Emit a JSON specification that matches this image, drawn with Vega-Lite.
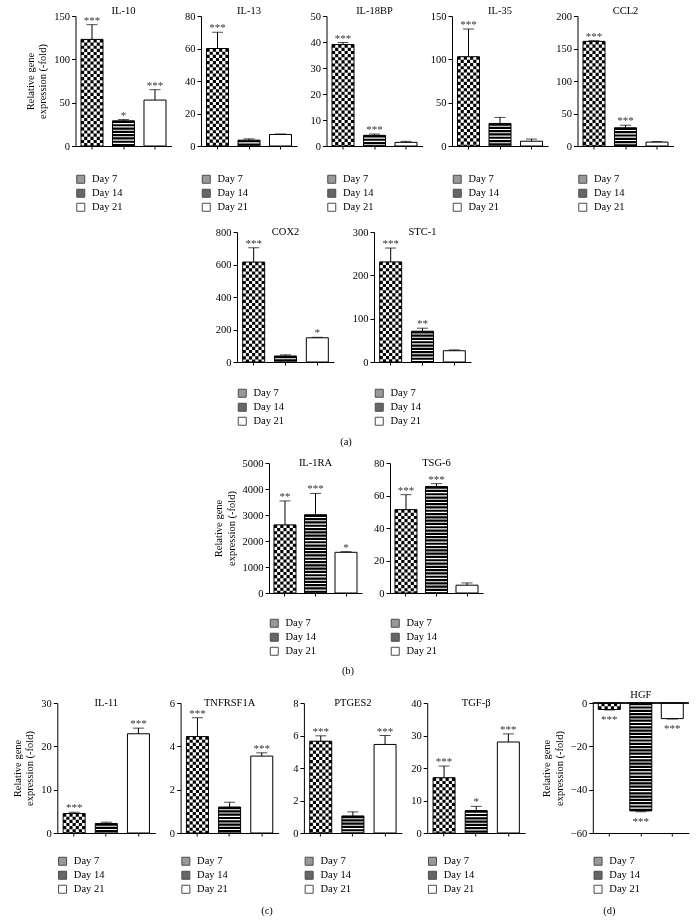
{
"$schema":"https://vega.github.io/schema/vega-lite/v6.json",
"padding":{"left":0,"top":5,"right":0,"bottom":0},
"background":"white",
"spacing":0,
"resolve":{"scale":{"fill":"independent"},"legend":{"fill":"independent"}},
"config":{
 "view":{"stroke":null},
 "font":"Liberation Serif",
 "axis":{"labelFont":"Liberation Serif","labelFontSize":10.5,"labelColor":"black","titleFont":"Liberation Serif","titleFontSize":10.5,"titleFontWeight":"normal","titleColor":"black","domainColor":"black","tickColor":"black","grid":false,"tickSize":4,"labelPadding":2,"titlePadding":6},
 "axisX":{"tickSize":3},
 "title":{"font":"Liberation Serif","fontSize":10.5,"fontWeight":"normal","color":"black","offset":-5,"anchor":"middle","frame":"group"},
 "legend":{"orient":"bottom","direction":"vertical","labelFont":"Liberation Serif","labelFontSize":10.5,"labelColor":"black","symbolType":"square","symbolSize":64,"symbolStrokeColor":"black","symbolStrokeWidth":1,"rowPadding":1,"offset":19,"labelOffset":6,"padding":0}
},
"datasets":{"d":[
{"g":"IL-10","day":"Day 7","v":123,"e":140,"s":"***"},
{"g":"IL-10","day":"Day 14","v":29,"e":30.5,"s":"*"},
{"g":"IL-10","day":"Day 21","v":53,"e":65,"s":"***"},
{"g":"IL-13","day":"Day 7","v":60,"e":70,"s":"***"},
{"g":"IL-13","day":"Day 14","v":3.6,"e":4.4,"s":""},
{"g":"IL-13","day":"Day 21","v":7.1,"e":7.4,"s":""},
{"g":"IL-18BP","day":"Day 7","v":39,"e":39.8,"s":"***"},
{"g":"IL-18BP","day":"Day 14","v":4.1,"e":4.6,"s":"***"},
{"g":"IL-18BP","day":"Day 21","v":1.4,"e":1.8,"s":""},
{"g":"IL-35","day":"Day 7","v":103,"e":135,"s":"***"},
{"g":"IL-35","day":"Day 14","v":26,"e":33,"s":""},
{"g":"IL-35","day":"Day 21","v":5.5,"e":8,"s":""},
{"g":"CCL2","day":"Day 7","v":161,"e":162,"s":"***"},
{"g":"CCL2","day":"Day 14","v":28,"e":32,"s":"***"},
{"g":"CCL2","day":"Day 21","v":6,"e":6.8,"s":""},
{"g":"COX2","day":"Day 7","v":615,"e":703,"s":"***"},
{"g":"COX2","day":"Day 14","v":37,"e":44,"s":""},
{"g":"COX2","day":"Day 21","v":149,"e":152,"s":"*"},
{"g":"STC-1","day":"Day 7","v":231,"e":263,"s":"***"},
{"g":"STC-1","day":"Day 14","v":71,"e":78,"s":"**"},
{"g":"STC-1","day":"Day 21","v":26,"e":28,"s":""},
{"g":"IL-1RA","day":"Day 7","v":2620,"e":3540,"s":"**"},
{"g":"IL-1RA","day":"Day 14","v":3010,"e":3830,"s":"***"},
{"g":"IL-1RA","day":"Day 21","v":1565,"e":1590,"s":"*"},
{"g":"TSG-6","day":"Day 7","v":51.3,"e":60.5,"s":"***"},
{"g":"TSG-6","day":"Day 14","v":65.5,"e":67.3,"s":"***"},
{"g":"TSG-6","day":"Day 21","v":4.8,"e":6.2,"s":""},
{"g":"IL-11","day":"Day 7","v":4.5,"e":4.8,"s":"***"},
{"g":"IL-11","day":"Day 14","v":2.2,"e":2.5,"s":""},
{"g":"IL-11","day":"Day 21","v":22.9,"e":24.2,"s":"***"},
{"g":"TNFRSF1A","day":"Day 7","v":4.45,"e":5.32,"s":"***"},
{"g":"TNFRSF1A","day":"Day 14","v":1.2,"e":1.42,"s":""},
{"g":"TNFRSF1A","day":"Day 21","v":3.55,"e":3.7,"s":"***"},
{"g":"PTGES2","day":"Day 7","v":5.65,"e":5.98,"s":"***"},
{"g":"PTGES2","day":"Day 14","v":1.05,"e":1.3,"s":""},
{"g":"PTGES2","day":"Day 21","v":5.45,"e":6.0,"s":"***"},
{"g":"TGF-β","day":"Day 7","v":17,"e":20.6,"s":"***"},
{"g":"TGF-β","day":"Day 14","v":6.9,"e":8.2,"s":"*"},
{"g":"TGF-β","day":"Day 21","v":28,"e":30.5,"s":"***"},
{"g":"HGF","day":"Day 7","v":-3.0,"e":-3.2,"s":"***"},
{"g":"HGF","day":"Day 14","v":-49.8,"e":-50.2,"s":"***"},
{"g":"HGF","day":"Day 21","v":-7.2,"e":-7.4,"s":"***"}
]},
"vconcat":[
{"spacing":29.5,"bounds":"flush","resolve":{"scale":{"fill":"independent"},"legend":{"fill":"independent"}},"hconcat":[
 {"width":45.5,"height":210.75,"data":{"values":[]},"mark":"point","encoding":{}},
 {"width":96,"height":130,"title":"IL-10","data":{"name":"d"},"transform":[{"filter":"datum.g==='IL-10'"}],
  "encoding":{"x":{"field":"day","type":"nominal","scale":{"domain":["Day 7","Day 14","Day 21"],"paddingInner":0.3,"paddingOuter":0.174},"axis":{"title":null,"labels":false}},
   "y":{"field":"v","type":"quantitative","scale":{"domain":[0,150],"nice":false,"zero":false},"axis":{"values":[0,50,100,150],"format":"d","title":["Relative gene","expression (-fold)"]}}},
  "layer":[
   {"transform":[{"filter":"datum.day==='Day 7'"}],"mark":{"type":"rule","strokeWidth":22,"strokeDash":[3.14,3.14],"color":"black"},"encoding":{"y2":{"datum":0}}},
   {"transform":[{"filter":"datum.day==='Day 7'"}],"mark":{"type":"rule","strokeWidth":3.14,"color":"white","blend":"difference","xOffset":-6.29},"encoding":{"y2":{"datum":0}}},
   {"transform":[{"filter":"datum.day==='Day 7'"}],"mark":{"type":"rule","strokeWidth":3.14,"color":"white","blend":"difference"},"encoding":{"y2":{"datum":0}}},
   {"transform":[{"filter":"datum.day==='Day 7'"}],"mark":{"type":"rule","strokeWidth":3.14,"color":"white","blend":"difference","xOffset":6.29},"encoding":{"y2":{"datum":0}}},
   {"transform":[{"filter":"datum.day==='Day 14'"}],"mark":{"type":"rule","strokeWidth":22,"strokeDash":[2.2,1.1],"color":"black"},"encoding":{"y2":{"datum":0}}},
   {"mark":{"type":"bar","filled":false,"color":"black","strokeWidth":1,"width":22}},
   {"mark":{"type":"rule","color":"black","strokeWidth":1},"encoding":{"y2":{"field":"e"}}},
   {"mark":{"type":"tick","color":"black","size":11,"thickness":1},"encoding":{"y":{"field":"e","type":"quantitative"}}},
   {"mark":{"type":"text","font":"Liberation Serif","fontSize":11,"baseline":"alphabetic","dy":-1,"color":"#333"},"encoding":{"y":{"field":"e","type":"quantitative"},"text":{"field":"s"}}},
   {"transform":[{"filter":"false"}],"mark":{"type":"point","shape":"square","filled":true,"stroke":"black","strokeWidth":1,"size":64},"encoding":{"fill":{"field":"day","type":"nominal","scale":{"domain":["Day 7","Day 14","Day 21"],"range":["#6e6e6e","#262626","white"]},"legend":{"title":null,"offset":24}}}}
  ]},
 {"width":96,"height":130,"title":"IL-13","data":{"name":"d"},"transform":[{"filter":"datum.g==='IL-13'"}],
  "encoding":{"x":{"field":"day","type":"nominal","scale":{"domain":["Day 7","Day 14","Day 21"],"paddingInner":0.3,"paddingOuter":0.174},"axis":{"title":null,"labels":false}},
   "y":{"field":"v","type":"quantitative","scale":{"domain":[0,80],"nice":false,"zero":false},"axis":{"values":[0,20,40,60,80],"format":"d","title":null}}},
  "layer":[
   {"transform":[{"filter":"datum.day==='Day 7'"}],"mark":{"type":"rule","strokeWidth":22,"strokeDash":[3.14,3.14],"color":"black"},"encoding":{"y2":{"datum":0}}},
   {"transform":[{"filter":"datum.day==='Day 7'"}],"mark":{"type":"rule","strokeWidth":3.14,"color":"white","blend":"difference","xOffset":-6.29},"encoding":{"y2":{"datum":0}}},
   {"transform":[{"filter":"datum.day==='Day 7'"}],"mark":{"type":"rule","strokeWidth":3.14,"color":"white","blend":"difference"},"encoding":{"y2":{"datum":0}}},
   {"transform":[{"filter":"datum.day==='Day 7'"}],"mark":{"type":"rule","strokeWidth":3.14,"color":"white","blend":"difference","xOffset":6.29},"encoding":{"y2":{"datum":0}}},
   {"transform":[{"filter":"datum.day==='Day 14'"}],"mark":{"type":"rule","strokeWidth":22,"strokeDash":[2.2,1.1],"color":"black"},"encoding":{"y2":{"datum":0}}},
   {"mark":{"type":"bar","filled":false,"color":"black","strokeWidth":1,"width":22}},
   {"mark":{"type":"rule","color":"black","strokeWidth":1},"encoding":{"y2":{"field":"e"}}},
   {"mark":{"type":"tick","color":"black","size":11,"thickness":1},"encoding":{"y":{"field":"e","type":"quantitative"}}},
   {"mark":{"type":"text","font":"Liberation Serif","fontSize":11,"baseline":"alphabetic","dy":-1,"color":"#333"},"encoding":{"y":{"field":"e","type":"quantitative"},"text":{"field":"s"}}},
   {"transform":[{"filter":"false"}],"mark":{"type":"point","shape":"square","filled":true,"stroke":"black","strokeWidth":1,"size":64},"encoding":{"fill":{"field":"day","type":"nominal","scale":{"domain":["Day 7","Day 14","Day 21"],"range":["#6e6e6e","#262626","white"]},"legend":{"title":null,"offset":24}}}}
  ]},
 {"width":96,"height":130,"title":"IL-18BP","data":{"name":"d"},"transform":[{"filter":"datum.g==='IL-18BP'"}],
  "encoding":{"x":{"field":"day","type":"nominal","scale":{"domain":["Day 7","Day 14","Day 21"],"paddingInner":0.3,"paddingOuter":0.174},"axis":{"title":null,"labels":false}},
   "y":{"field":"v","type":"quantitative","scale":{"domain":[0,50],"nice":false,"zero":false},"axis":{"values":[0,10,20,30,40,50],"format":"d","title":null}}},
  "layer":[
   {"transform":[{"filter":"datum.day==='Day 7'"}],"mark":{"type":"rule","strokeWidth":22,"strokeDash":[3.14,3.14],"color":"black"},"encoding":{"y2":{"datum":0}}},
   {"transform":[{"filter":"datum.day==='Day 7'"}],"mark":{"type":"rule","strokeWidth":3.14,"color":"white","blend":"difference","xOffset":-6.29},"encoding":{"y2":{"datum":0}}},
   {"transform":[{"filter":"datum.day==='Day 7'"}],"mark":{"type":"rule","strokeWidth":3.14,"color":"white","blend":"difference"},"encoding":{"y2":{"datum":0}}},
   {"transform":[{"filter":"datum.day==='Day 7'"}],"mark":{"type":"rule","strokeWidth":3.14,"color":"white","blend":"difference","xOffset":6.29},"encoding":{"y2":{"datum":0}}},
   {"transform":[{"filter":"datum.day==='Day 14'"}],"mark":{"type":"rule","strokeWidth":22,"strokeDash":[2.2,1.1],"color":"black"},"encoding":{"y2":{"datum":0}}},
   {"mark":{"type":"bar","filled":false,"color":"black","strokeWidth":1,"width":22}},
   {"mark":{"type":"rule","color":"black","strokeWidth":1},"encoding":{"y2":{"field":"e"}}},
   {"mark":{"type":"tick","color":"black","size":11,"thickness":1},"encoding":{"y":{"field":"e","type":"quantitative"}}},
   {"mark":{"type":"text","font":"Liberation Serif","fontSize":11,"baseline":"alphabetic","dy":-1,"color":"#333"},"encoding":{"y":{"field":"e","type":"quantitative"},"text":{"field":"s"}}},
   {"transform":[{"filter":"false"}],"mark":{"type":"point","shape":"square","filled":true,"stroke":"black","strokeWidth":1,"size":64},"encoding":{"fill":{"field":"day","type":"nominal","scale":{"domain":["Day 7","Day 14","Day 21"],"range":["#6e6e6e","#262626","white"]},"legend":{"title":null,"offset":24}}}}
  ]},
 {"width":96,"height":130,"title":"IL-35","data":{"name":"d"},"transform":[{"filter":"datum.g==='IL-35'"}],
  "encoding":{"x":{"field":"day","type":"nominal","scale":{"domain":["Day 7","Day 14","Day 21"],"paddingInner":0.3,"paddingOuter":0.174},"axis":{"title":null,"labels":false}},
   "y":{"field":"v","type":"quantitative","scale":{"domain":[0,150],"nice":false,"zero":false},"axis":{"values":[0,50,100,150],"format":"d","title":null}}},
  "layer":[
   {"transform":[{"filter":"datum.day==='Day 7'"}],"mark":{"type":"rule","strokeWidth":22,"strokeDash":[3.14,3.14],"color":"black"},"encoding":{"y2":{"datum":0}}},
   {"transform":[{"filter":"datum.day==='Day 7'"}],"mark":{"type":"rule","strokeWidth":3.14,"color":"white","blend":"difference","xOffset":-6.29},"encoding":{"y2":{"datum":0}}},
   {"transform":[{"filter":"datum.day==='Day 7'"}],"mark":{"type":"rule","strokeWidth":3.14,"color":"white","blend":"difference"},"encoding":{"y2":{"datum":0}}},
   {"transform":[{"filter":"datum.day==='Day 7'"}],"mark":{"type":"rule","strokeWidth":3.14,"color":"white","blend":"difference","xOffset":6.29},"encoding":{"y2":{"datum":0}}},
   {"transform":[{"filter":"datum.day==='Day 14'"}],"mark":{"type":"rule","strokeWidth":22,"strokeDash":[2.2,1.1],"color":"black"},"encoding":{"y2":{"datum":0}}},
   {"mark":{"type":"bar","filled":false,"color":"black","strokeWidth":1,"width":22}},
   {"mark":{"type":"rule","color":"black","strokeWidth":1},"encoding":{"y2":{"field":"e"}}},
   {"mark":{"type":"tick","color":"black","size":11,"thickness":1},"encoding":{"y":{"field":"e","type":"quantitative"}}},
   {"mark":{"type":"text","font":"Liberation Serif","fontSize":11,"baseline":"alphabetic","dy":-1,"color":"#333"},"encoding":{"y":{"field":"e","type":"quantitative"},"text":{"field":"s"}}},
   {"transform":[{"filter":"false"}],"mark":{"type":"point","shape":"square","filled":true,"stroke":"black","strokeWidth":1,"size":64},"encoding":{"fill":{"field":"day","type":"nominal","scale":{"domain":["Day 7","Day 14","Day 21"],"range":["#6e6e6e","#262626","white"]},"legend":{"title":null,"offset":24}}}}
  ]},
 {"width":96,"height":130,"title":"CCL2","data":{"name":"d"},"transform":[{"filter":"datum.g==='CCL2'"}],
  "encoding":{"x":{"field":"day","type":"nominal","scale":{"domain":["Day 7","Day 14","Day 21"],"paddingInner":0.3,"paddingOuter":0.174},"axis":{"title":null,"labels":false}},
   "y":{"field":"v","type":"quantitative","scale":{"domain":[0,200],"nice":false,"zero":false},"axis":{"values":[0,50,100,150,200],"format":"d","title":null}}},
  "layer":[
   {"transform":[{"filter":"datum.day==='Day 7'"}],"mark":{"type":"rule","strokeWidth":22,"strokeDash":[3.14,3.14],"color":"black"},"encoding":{"y2":{"datum":0}}},
   {"transform":[{"filter":"datum.day==='Day 7'"}],"mark":{"type":"rule","strokeWidth":3.14,"color":"white","blend":"difference","xOffset":-6.29},"encoding":{"y2":{"datum":0}}},
   {"transform":[{"filter":"datum.day==='Day 7'"}],"mark":{"type":"rule","strokeWidth":3.14,"color":"white","blend":"difference"},"encoding":{"y2":{"datum":0}}},
   {"transform":[{"filter":"datum.day==='Day 7'"}],"mark":{"type":"rule","strokeWidth":3.14,"color":"white","blend":"difference","xOffset":6.29},"encoding":{"y2":{"datum":0}}},
   {"transform":[{"filter":"datum.day==='Day 14'"}],"mark":{"type":"rule","strokeWidth":22,"strokeDash":[2.2,1.1],"color":"black"},"encoding":{"y2":{"datum":0}}},
   {"mark":{"type":"bar","filled":false,"color":"black","strokeWidth":1,"width":22}},
   {"mark":{"type":"rule","color":"black","strokeWidth":1},"encoding":{"y2":{"field":"e"}}},
   {"mark":{"type":"tick","color":"black","size":11,"thickness":1},"encoding":{"y":{"field":"e","type":"quantitative"}}},
   {"mark":{"type":"text","font":"Liberation Serif","fontSize":11,"baseline":"alphabetic","dy":-1,"color":"#333"},"encoding":{"y":{"field":"e","type":"quantitative"},"text":{"field":"s"}}},
   {"transform":[{"filter":"false"}],"mark":{"type":"point","shape":"square","filled":true,"stroke":"black","strokeWidth":1,"size":64},"encoding":{"fill":{"field":"day","type":"nominal","scale":{"domain":["Day 7","Day 14","Day 21"],"range":["#6e6e6e","#262626","white"]},"legend":{"title":null,"offset":24}}}}
  ]}
]},
{"spacing":40,"bounds":"flush","resolve":{"scale":{"fill":"independent"},"legend":{"fill":"independent"}},"hconcat":[
 {"width":197,"height":225.5,"data":{"values":[]},"mark":"point","encoding":{},"title":{"text":"(a)","orient":"bottom","offset":-20.5,"dx":247.5}},
 {"width":97,"height":130,"title":{"text":"COX2","offset":-10.5},"data":{"name":"d"},"transform":[{"filter":"datum.g==='COX2'"}],
  "encoding":{"x":{"field":"day","type":"nominal","scale":{"domain":["Day 7","Day 14","Day 21"],"paddingInner":0.3,"paddingOuter":0.174},"axis":{"title":null,"labels":false}},
   "y":{"field":"v","type":"quantitative","scale":{"domain":[0,800],"nice":false,"zero":false},"axis":{"values":[0,200,400,600,800],"format":"d","title":null}}},
  "layer":[
   {"transform":[{"filter":"datum.day==='Day 7'"}],"mark":{"type":"rule","strokeWidth":22,"strokeDash":[3.14,3.14],"color":"black"},"encoding":{"y2":{"datum":0}}},
   {"transform":[{"filter":"datum.day==='Day 7'"}],"mark":{"type":"rule","strokeWidth":3.14,"color":"white","blend":"difference","xOffset":-6.29},"encoding":{"y2":{"datum":0}}},
   {"transform":[{"filter":"datum.day==='Day 7'"}],"mark":{"type":"rule","strokeWidth":3.14,"color":"white","blend":"difference"},"encoding":{"y2":{"datum":0}}},
   {"transform":[{"filter":"datum.day==='Day 7'"}],"mark":{"type":"rule","strokeWidth":3.14,"color":"white","blend":"difference","xOffset":6.29},"encoding":{"y2":{"datum":0}}},
   {"transform":[{"filter":"datum.day==='Day 14'"}],"mark":{"type":"rule","strokeWidth":22,"strokeDash":[2.2,1.1],"color":"black"},"encoding":{"y2":{"datum":0}}},
   {"mark":{"type":"bar","filled":false,"color":"black","strokeWidth":1,"width":22}},
   {"mark":{"type":"rule","color":"black","strokeWidth":1},"encoding":{"y2":{"field":"e"}}},
   {"mark":{"type":"tick","color":"black","size":11,"thickness":1},"encoding":{"y":{"field":"e","type":"quantitative"}}},
   {"mark":{"type":"text","font":"Liberation Serif","fontSize":11,"baseline":"alphabetic","dy":-1,"color":"#333"},"encoding":{"y":{"field":"e","type":"quantitative"},"text":{"field":"s"}}},
   {"transform":[{"filter":"false"}],"mark":{"type":"point","shape":"square","filled":true,"stroke":"black","strokeWidth":1,"size":64},"encoding":{"fill":{"field":"day","type":"nominal","scale":{"domain":["Day 7","Day 14","Day 21"],"range":["#6e6e6e","#262626","white"]},"legend":{"title":null,"offset":22}}}}
  ]},
 {"width":97,"height":130,"title":{"text":"STC-1","offset":-10.5},"data":{"name":"d"},"transform":[{"filter":"datum.g==='STC-1'"}],
  "encoding":{"x":{"field":"day","type":"nominal","scale":{"domain":["Day 7","Day 14","Day 21"],"paddingInner":0.3,"paddingOuter":0.174},"axis":{"title":null,"labels":false}},
   "y":{"field":"v","type":"quantitative","scale":{"domain":[0,300],"nice":false,"zero":false},"axis":{"values":[0,100,200,300],"format":"d","title":null}}},
  "layer":[
   {"transform":[{"filter":"datum.day==='Day 7'"}],"mark":{"type":"rule","strokeWidth":22,"strokeDash":[3.14,3.14],"color":"black"},"encoding":{"y2":{"datum":0}}},
   {"transform":[{"filter":"datum.day==='Day 7'"}],"mark":{"type":"rule","strokeWidth":3.14,"color":"white","blend":"difference","xOffset":-6.29},"encoding":{"y2":{"datum":0}}},
   {"transform":[{"filter":"datum.day==='Day 7'"}],"mark":{"type":"rule","strokeWidth":3.14,"color":"white","blend":"difference"},"encoding":{"y2":{"datum":0}}},
   {"transform":[{"filter":"datum.day==='Day 7'"}],"mark":{"type":"rule","strokeWidth":3.14,"color":"white","blend":"difference","xOffset":6.29},"encoding":{"y2":{"datum":0}}},
   {"transform":[{"filter":"datum.day==='Day 14'"}],"mark":{"type":"rule","strokeWidth":22,"strokeDash":[2.2,1.1],"color":"black"},"encoding":{"y2":{"datum":0}}},
   {"mark":{"type":"bar","filled":false,"color":"black","strokeWidth":1,"width":22}},
   {"mark":{"type":"rule","color":"black","strokeWidth":1},"encoding":{"y2":{"field":"e"}}},
   {"mark":{"type":"tick","color":"black","size":11,"thickness":1},"encoding":{"y":{"field":"e","type":"quantitative"}}},
   {"mark":{"type":"text","font":"Liberation Serif","fontSize":11,"baseline":"alphabetic","dy":-1,"color":"#333"},"encoding":{"y":{"field":"e","type":"quantitative"},"text":{"field":"s"}}},
   {"transform":[{"filter":"false"}],"mark":{"type":"point","shape":"square","filled":true,"stroke":"black","strokeWidth":1,"size":64},"encoding":{"fill":{"field":"day","type":"nominal","scale":{"domain":["Day 7","Day 14","Day 21"],"range":["#6e6e6e","#262626","white"]},"legend":{"title":null,"offset":22}}}}
  ]}
]},
{"spacing":28,"bounds":"flush","resolve":{"scale":{"fill":"independent"},"legend":{"fill":"independent"}},"hconcat":[
 {"width":241,"height":226,"data":{"values":[]},"mark":"point","encoding":{},"title":{"text":"(b)","orient":"bottom","offset":-23.5,"dx":227.5}},
 {"width":93,"height":130,"title":{"text":"IL-1RA","offset":-10.5},"data":{"name":"d"},"transform":[{"filter":"datum.g==='IL-1RA'"}],
  "encoding":{"x":{"field":"day","type":"nominal","scale":{"domain":["Day 7","Day 14","Day 21"],"paddingInner":0.3,"paddingOuter":0.174},"axis":{"title":null,"labels":false}},
   "y":{"field":"v","type":"quantitative","scale":{"domain":[0,5000],"nice":false,"zero":false},"axis":{"values":[0,1000,2000,3000,4000,5000],"format":"d","title":["Relative gene","expression (-fold)"]}}},
  "layer":[
   {"transform":[{"filter":"datum.day==='Day 7'"}],"mark":{"type":"rule","strokeWidth":22,"strokeDash":[3.14,3.14],"color":"black"},"encoding":{"y2":{"datum":0}}},
   {"transform":[{"filter":"datum.day==='Day 7'"}],"mark":{"type":"rule","strokeWidth":3.14,"color":"white","blend":"difference","xOffset":-6.29},"encoding":{"y2":{"datum":0}}},
   {"transform":[{"filter":"datum.day==='Day 7'"}],"mark":{"type":"rule","strokeWidth":3.14,"color":"white","blend":"difference"},"encoding":{"y2":{"datum":0}}},
   {"transform":[{"filter":"datum.day==='Day 7'"}],"mark":{"type":"rule","strokeWidth":3.14,"color":"white","blend":"difference","xOffset":6.29},"encoding":{"y2":{"datum":0}}},
   {"transform":[{"filter":"datum.day==='Day 14'"}],"mark":{"type":"rule","strokeWidth":22,"strokeDash":[2.2,1.1],"color":"black"},"encoding":{"y2":{"datum":0}}},
   {"mark":{"type":"bar","filled":false,"color":"black","strokeWidth":1,"width":22}},
   {"mark":{"type":"rule","color":"black","strokeWidth":1},"encoding":{"y2":{"field":"e"}}},
   {"mark":{"type":"tick","color":"black","size":11,"thickness":1},"encoding":{"y":{"field":"e","type":"quantitative"}}},
   {"mark":{"type":"text","font":"Liberation Serif","fontSize":11,"baseline":"alphabetic","dy":-1,"color":"#333"},"encoding":{"y":{"field":"e","type":"quantitative"},"text":{"field":"s"}}},
   {"transform":[{"filter":"false"}],"mark":{"type":"point","shape":"square","filled":true,"stroke":"black","strokeWidth":1,"size":64},"encoding":{"fill":{"field":"day","type":"nominal","scale":{"domain":["Day 7","Day 14","Day 21"],"range":["#6e6e6e","#262626","white"]},"legend":{"title":null,"offset":21}}}}
  ]},
 {"width":93,"height":130,"title":{"text":"TSG-6","offset":-10.5},"data":{"name":"d"},"transform":[{"filter":"datum.g==='TSG-6'"}],
  "encoding":{"x":{"field":"day","type":"nominal","scale":{"domain":["Day 7","Day 14","Day 21"],"paddingInner":0.3,"paddingOuter":0.174},"axis":{"title":null,"labels":false}},
   "y":{"field":"v","type":"quantitative","scale":{"domain":[0,80],"nice":false,"zero":false},"axis":{"values":[0,20,40,60,80],"format":"d","title":null}}},
  "layer":[
   {"transform":[{"filter":"datum.day==='Day 7'"}],"mark":{"type":"rule","strokeWidth":22,"strokeDash":[3.14,3.14],"color":"black"},"encoding":{"y2":{"datum":0}}},
   {"transform":[{"filter":"datum.day==='Day 7'"}],"mark":{"type":"rule","strokeWidth":3.14,"color":"white","blend":"difference","xOffset":-6.29},"encoding":{"y2":{"datum":0}}},
   {"transform":[{"filter":"datum.day==='Day 7'"}],"mark":{"type":"rule","strokeWidth":3.14,"color":"white","blend":"difference"},"encoding":{"y2":{"datum":0}}},
   {"transform":[{"filter":"datum.day==='Day 7'"}],"mark":{"type":"rule","strokeWidth":3.14,"color":"white","blend":"difference","xOffset":6.29},"encoding":{"y2":{"datum":0}}},
   {"transform":[{"filter":"datum.day==='Day 14'"}],"mark":{"type":"rule","strokeWidth":22,"strokeDash":[2.2,1.1],"color":"black"},"encoding":{"y2":{"datum":0}}},
   {"mark":{"type":"bar","filled":false,"color":"black","strokeWidth":1,"width":22}},
   {"mark":{"type":"rule","color":"black","strokeWidth":1},"encoding":{"y2":{"field":"e"}}},
   {"mark":{"type":"tick","color":"black","size":11,"thickness":1},"encoding":{"y":{"field":"e","type":"quantitative"}}},
   {"mark":{"type":"text","font":"Liberation Serif","fontSize":11,"baseline":"alphabetic","dy":-1,"color":"#333"},"encoding":{"y":{"field":"e","type":"quantitative"},"text":{"field":"s"}}},
   {"transform":[{"filter":"false"}],"mark":{"type":"point","shape":"square","filled":true,"stroke":"black","strokeWidth":1,"size":64},"encoding":{"fill":{"field":"day","type":"nominal","scale":{"domain":["Day 7","Day 14","Day 21"],"range":["#6e6e6e","#262626","white"]},"legend":{"title":null,"offset":21}}}}
  ]}
]},
{"spacing":25.3,"bounds":"flush","resolve":{"scale":{"fill":"independent"},"legend":{"fill":"independent"}},"hconcat":[
 {"width":31.7,"height":208,"data":{"values":[]},"mark":"point","encoding":{},"title":{"text":"(c)","orient":"bottom","offset":-5,"dx":251.15}},
 {"width":98,"height":130,"title":{"text":"IL-11","offset":-10.5},"data":{"name":"d"},"transform":[{"filter":"datum.g==='IL-11'"}],
  "encoding":{"x":{"field":"day","type":"nominal","scale":{"domain":["Day 7","Day 14","Day 21"],"paddingInner":0.3,"paddingOuter":0.174},"axis":{"title":null,"labels":false}},
   "y":{"field":"v","type":"quantitative","scale":{"domain":[0,30],"nice":false,"zero":false},"axis":{"values":[0,10,20,30],"format":"d","title":["Relative gene","expression (-fold)"]}}},
  "layer":[
   {"transform":[{"filter":"datum.day==='Day 7'"}],"mark":{"type":"rule","strokeWidth":22,"strokeDash":[3.14,3.14],"color":"black"},"encoding":{"y2":{"datum":0}}},
   {"transform":[{"filter":"datum.day==='Day 7'"}],"mark":{"type":"rule","strokeWidth":3.14,"color":"white","blend":"difference","xOffset":-6.29},"encoding":{"y2":{"datum":0}}},
   {"transform":[{"filter":"datum.day==='Day 7'"}],"mark":{"type":"rule","strokeWidth":3.14,"color":"white","blend":"difference"},"encoding":{"y2":{"datum":0}}},
   {"transform":[{"filter":"datum.day==='Day 7'"}],"mark":{"type":"rule","strokeWidth":3.14,"color":"white","blend":"difference","xOffset":6.29},"encoding":{"y2":{"datum":0}}},
   {"transform":[{"filter":"datum.day==='Day 14'"}],"mark":{"type":"rule","strokeWidth":22,"strokeDash":[2.2,1.1],"color":"black"},"encoding":{"y2":{"datum":0}}},
   {"mark":{"type":"bar","filled":false,"color":"black","strokeWidth":1,"width":22}},
   {"mark":{"type":"rule","color":"black","strokeWidth":1},"encoding":{"y2":{"field":"e"}}},
   {"mark":{"type":"tick","color":"black","size":11,"thickness":1},"encoding":{"y":{"field":"e","type":"quantitative"}}},
   {"mark":{"type":"text","font":"Liberation Serif","fontSize":11,"baseline":"alphabetic","dy":-1,"color":"#333"},"encoding":{"y":{"field":"e","type":"quantitative"},"text":{"field":"s"}}},
   {"transform":[{"filter":"false"}],"mark":{"type":"point","shape":"square","filled":true,"stroke":"black","strokeWidth":1,"size":64},"encoding":{"fill":{"field":"day","type":"nominal","scale":{"domain":["Day 7","Day 14","Day 21"],"range":["#6e6e6e","#262626","white"]},"legend":{"title":null}}}}
  ]},
 {"width":98,"height":130,"title":{"text":"TNFRSF1A","offset":-10.5},"data":{"name":"d"},"transform":[{"filter":"datum.g==='TNFRSF1A'"}],
  "encoding":{"x":{"field":"day","type":"nominal","scale":{"domain":["Day 7","Day 14","Day 21"],"paddingInner":0.3,"paddingOuter":0.174},"axis":{"title":null,"labels":false}},
   "y":{"field":"v","type":"quantitative","scale":{"domain":[0,6],"nice":false,"zero":false},"axis":{"values":[0,2,4,6],"format":"d","title":null}}},
  "layer":[
   {"transform":[{"filter":"datum.day==='Day 7'"}],"mark":{"type":"rule","strokeWidth":22,"strokeDash":[3.14,3.14],"color":"black"},"encoding":{"y2":{"datum":0}}},
   {"transform":[{"filter":"datum.day==='Day 7'"}],"mark":{"type":"rule","strokeWidth":3.14,"color":"white","blend":"difference","xOffset":-6.29},"encoding":{"y2":{"datum":0}}},
   {"transform":[{"filter":"datum.day==='Day 7'"}],"mark":{"type":"rule","strokeWidth":3.14,"color":"white","blend":"difference"},"encoding":{"y2":{"datum":0}}},
   {"transform":[{"filter":"datum.day==='Day 7'"}],"mark":{"type":"rule","strokeWidth":3.14,"color":"white","blend":"difference","xOffset":6.29},"encoding":{"y2":{"datum":0}}},
   {"transform":[{"filter":"datum.day==='Day 14'"}],"mark":{"type":"rule","strokeWidth":22,"strokeDash":[2.2,1.1],"color":"black"},"encoding":{"y2":{"datum":0}}},
   {"mark":{"type":"bar","filled":false,"color":"black","strokeWidth":1,"width":22}},
   {"mark":{"type":"rule","color":"black","strokeWidth":1},"encoding":{"y2":{"field":"e"}}},
   {"mark":{"type":"tick","color":"black","size":11,"thickness":1},"encoding":{"y":{"field":"e","type":"quantitative"}}},
   {"mark":{"type":"text","font":"Liberation Serif","fontSize":11,"baseline":"alphabetic","dy":-1,"color":"#333"},"encoding":{"y":{"field":"e","type":"quantitative"},"text":{"field":"s"}}},
   {"transform":[{"filter":"false"}],"mark":{"type":"point","shape":"square","filled":true,"stroke":"black","strokeWidth":1,"size":64},"encoding":{"fill":{"field":"day","type":"nominal","scale":{"domain":["Day 7","Day 14","Day 21"],"range":["#6e6e6e","#262626","white"]},"legend":{"title":null}}}}
  ]},
 {"width":98,"height":130,"title":{"text":"PTGES2","offset":-10.5},"data":{"name":"d"},"transform":[{"filter":"datum.g==='PTGES2'"}],
  "encoding":{"x":{"field":"day","type":"nominal","scale":{"domain":["Day 7","Day 14","Day 21"],"paddingInner":0.3,"paddingOuter":0.174},"axis":{"title":null,"labels":false}},
   "y":{"field":"v","type":"quantitative","scale":{"domain":[0,8],"nice":false,"zero":false},"axis":{"values":[0,2,4,6,8],"format":"d","title":null}}},
  "layer":[
   {"transform":[{"filter":"datum.day==='Day 7'"}],"mark":{"type":"rule","strokeWidth":22,"strokeDash":[3.14,3.14],"color":"black"},"encoding":{"y2":{"datum":0}}},
   {"transform":[{"filter":"datum.day==='Day 7'"}],"mark":{"type":"rule","strokeWidth":3.14,"color":"white","blend":"difference","xOffset":-6.29},"encoding":{"y2":{"datum":0}}},
   {"transform":[{"filter":"datum.day==='Day 7'"}],"mark":{"type":"rule","strokeWidth":3.14,"color":"white","blend":"difference"},"encoding":{"y2":{"datum":0}}},
   {"transform":[{"filter":"datum.day==='Day 7'"}],"mark":{"type":"rule","strokeWidth":3.14,"color":"white","blend":"difference","xOffset":6.29},"encoding":{"y2":{"datum":0}}},
   {"transform":[{"filter":"datum.day==='Day 14'"}],"mark":{"type":"rule","strokeWidth":22,"strokeDash":[2.2,1.1],"color":"black"},"encoding":{"y2":{"datum":0}}},
   {"mark":{"type":"bar","filled":false,"color":"black","strokeWidth":1,"width":22}},
   {"mark":{"type":"rule","color":"black","strokeWidth":1},"encoding":{"y2":{"field":"e"}}},
   {"mark":{"type":"tick","color":"black","size":11,"thickness":1},"encoding":{"y":{"field":"e","type":"quantitative"}}},
   {"mark":{"type":"text","font":"Liberation Serif","fontSize":11,"baseline":"alphabetic","dy":-1,"color":"#333"},"encoding":{"y":{"field":"e","type":"quantitative"},"text":{"field":"s"}}},
   {"transform":[{"filter":"false"}],"mark":{"type":"point","shape":"square","filled":true,"stroke":"black","strokeWidth":1,"size":64},"encoding":{"fill":{"field":"day","type":"nominal","scale":{"domain":["Day 7","Day 14","Day 21"],"range":["#6e6e6e","#262626","white"]},"legend":{"title":null}}}}
  ]},
 {"width":98,"height":130,"title":{"text":"TGF-β","offset":-10.5},"data":{"name":"d"},"transform":[{"filter":"datum.g==='TGF-β'"}],
  "encoding":{"x":{"field":"day","type":"nominal","scale":{"domain":["Day 7","Day 14","Day 21"],"paddingInner":0.3,"paddingOuter":0.174},"axis":{"title":null,"labels":false}},
   "y":{"field":"v","type":"quantitative","scale":{"domain":[0,40],"nice":false,"zero":false},"axis":{"values":[0,10,20,30,40],"format":"d","title":null}}},
  "layer":[
   {"transform":[{"filter":"datum.day==='Day 7'"}],"mark":{"type":"rule","strokeWidth":22,"strokeDash":[3.14,3.14],"color":"black"},"encoding":{"y2":{"datum":0}}},
   {"transform":[{"filter":"datum.day==='Day 7'"}],"mark":{"type":"rule","strokeWidth":3.14,"color":"white","blend":"difference","xOffset":-6.29},"encoding":{"y2":{"datum":0}}},
   {"transform":[{"filter":"datum.day==='Day 7'"}],"mark":{"type":"rule","strokeWidth":3.14,"color":"white","blend":"difference"},"encoding":{"y2":{"datum":0}}},
   {"transform":[{"filter":"datum.day==='Day 7'"}],"mark":{"type":"rule","strokeWidth":3.14,"color":"white","blend":"difference","xOffset":6.29},"encoding":{"y2":{"datum":0}}},
   {"transform":[{"filter":"datum.day==='Day 14'"}],"mark":{"type":"rule","strokeWidth":22,"strokeDash":[2.2,1.1],"color":"black"},"encoding":{"y2":{"datum":0}}},
   {"mark":{"type":"bar","filled":false,"color":"black","strokeWidth":1,"width":22}},
   {"mark":{"type":"rule","color":"black","strokeWidth":1},"encoding":{"y2":{"field":"e"}}},
   {"mark":{"type":"tick","color":"black","size":11,"thickness":1},"encoding":{"y":{"field":"e","type":"quantitative"}}},
   {"mark":{"type":"text","font":"Liberation Serif","fontSize":11,"baseline":"alphabetic","dy":-1,"color":"#333"},"encoding":{"y":{"field":"e","type":"quantitative"},"text":{"field":"s"}}},
   {"transform":[{"filter":"false"}],"mark":{"type":"point","shape":"square","filled":true,"stroke":"black","strokeWidth":1,"size":64},"encoding":{"fill":{"field":"day","type":"nominal","scale":{"domain":["Day 7","Day 14","Day 21"],"range":["#6e6e6e","#262626","white"]},"legend":{"title":null}}}}
  ]},
 {"width":16.4,"height":208,"data":{"values":[]},"mark":"point","encoding":{},"title":{"text":"(d)","orient":"bottom","offset":-5,"dx":50.6}},
 {"width":96,"height":130,"title":{"text":"HGF","offset":-8},"data":{"name":"d"},"transform":[{"filter":"datum.g==='HGF'"}],
  "layer":[
   {"encoding":{"x":{"field":"day","type":"nominal","scale":{"domain":["Day 7","Day 14","Day 21"],"paddingInner":0.3,"paddingOuter":0.174},"axis":{"title":null,"labels":false}},
     "y":{"field":"v","type":"quantitative","scale":{"domain":[-60,0],"nice":false,"zero":false},"axis":{"values":[-60,-40,-20,0],"format":"d","title":["Relative gene","expression (-fold)"]}}},
    "layer":[
     {"transform":[{"filter":"datum.day==='Day 7'"}],"mark":{"type":"rule","strokeWidth":22,"strokeDash":[3.14,3.14],"color":"black"},"encoding":{"y2":{"datum":0}}},
     {"transform":[{"filter":"datum.day==='Day 7'"}],"mark":{"type":"rule","strokeWidth":3.14,"color":"white","blend":"difference","xOffset":-6.29},"encoding":{"y2":{"datum":0}}},
     {"transform":[{"filter":"datum.day==='Day 7'"}],"mark":{"type":"rule","strokeWidth":3.14,"color":"white","blend":"difference"},"encoding":{"y2":{"datum":0}}},
     {"transform":[{"filter":"datum.day==='Day 7'"}],"mark":{"type":"rule","strokeWidth":3.14,"color":"white","blend":"difference","xOffset":6.29},"encoding":{"y2":{"datum":0}}},
     {"transform":[{"filter":"datum.day==='Day 14'"}],"mark":{"type":"rule","strokeWidth":22,"strokeDash":[2.2,1.1],"color":"black"},"encoding":{"y2":{"datum":0}}},
     {"mark":{"type":"bar","filled":false,"color":"black","strokeWidth":1,"width":22}},
     {"mark":{"type":"rule","color":"black","strokeWidth":1},"encoding":{"y2":{"field":"e"}}},
     {"mark":{"type":"tick","color":"black","size":11,"thickness":1},"encoding":{"y":{"field":"e","type":"quantitative"}}},
     {"mark":{"type":"text","font":"Liberation Serif","fontSize":11,"baseline":"alphabetic","dy":13,"color":"#333"},"encoding":{"y":{"field":"e","type":"quantitative"},"text":{"field":"s"}}},
     {"transform":[{"filter":"false"}],"mark":{"type":"point","shape":"square","filled":true,"stroke":"black","strokeWidth":1,"size":64},"encoding":{"fill":{"field":"day","type":"nominal","scale":{"domain":["Day 7","Day 14","Day 21"],"range":["#6e6e6e","#262626","white"]},"legend":{"title":null}}}}
    ]},
   {"mark":{"type":"rule","color":"black","strokeWidth":1},"encoding":{"y":{"datum":0,"type":"quantitative"}}}
  ]}
]}
]
}
